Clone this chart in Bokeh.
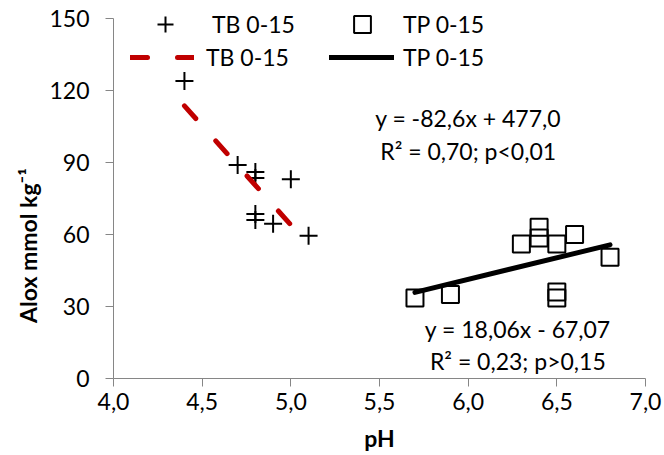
from bokeh.plotting import figure
from bokeh.models import (Range1d, FixedTicker, Label, Legend, LegendItem)
from bokeh.embed import file_html
from bokeh.resources import INLINE
import math

# ---- data ----
tb_ph = [4.4, 4.7, 4.8, 4.8, 4.8, 4.8, 4.9, 5.0, 5.1]
tb_alox = [124, 89, 86, 83.5, 68.5, 66, 64.5, 83, 59.5]

tp_ph = [5.7, 5.9, 6.3, 6.4, 6.4, 6.5, 6.5, 6.5, 6.6, 6.8]
tp_alox = [33.5, 35, 56, 63, 58.5, 56, 36, 33.5, 60, 50.5]

tb_fit_x = [4.4, 5.1]
tb_fit_y = [113.6, 55.7]
tp_fit_x = [5.7, 6.8]
tp_fit_y = [35.9, 55.7]

x_ticks = [4.0, 4.5, 5.0, 5.5, 6.0, 6.5, 7.0]
x_tick_labels = ["4,0", "4,5", "5,0", "5,5", "6,0", "6,5", "7,0"]
y_ticks = [0, 30, 60, 90, 120, 150]

series_name_tb = "TB 0-15"
series_name_tp = "TP 0-15"
eq_tb = ["y = -82,6x + 477,0", "R² = 0,70; p<0,01"]
eq_tp = ["y = 18,06x - 67,07", "R² = 0,23; p>0,15"]
x_title = "pH"
y_title = "Alox mmol kg⁻¹"

FONT = "Lato"
FS = "23px"
RED = "#C00000"
AXIS_GRAY = "#868686"

W, H = 664, 455
X0_PX, X1_PX = 113, 645      # pixel positions of pH 4 and 7
Y0_PX, Y1_PX = 378, 18       # pixel positions of 0 and 150
xs = (7.0 - 4.0) / (X1_PX - X0_PX)
ys = (150.0 - 0.0) / (Y0_PX - Y1_PX)

p = figure(width=W, height=H, output_backend="svg", toolbar_location=None,
           x_range=Range1d(4.0 - X0_PX * xs, 7.0 + (W - X1_PX) * xs),
           y_range=Range1d(0.0 - (H - Y0_PX) * ys, 150.0 + Y1_PX * ys),
           min_border=0)
p.outline_line_color = None
p.grid.visible = False
p.background_fill_color = "white"
p.border_fill_color = "white"

p.xaxis.fixed_location = 0
p.yaxis.fixed_location = 4.0
p.xaxis.bounds = (4.0, 7.0)
p.yaxis.bounds = (0, 150)

for ax in (p.xaxis[0], p.yaxis[0]):
    ax.axis_line_color = AXIS_GRAY
    ax.major_tick_line_color = AXIS_GRAY
    ax.minor_tick_line_color = None
    ax.major_tick_in = 0
    ax.major_tick_out = 8
    ax.major_label_text_font = FONT
    ax.major_label_text_font_size = FS
    ax.major_label_text_color = "black"

p.xaxis.ticker = FixedTicker(ticks=x_ticks)
p.xaxis.major_label_overrides = {t: s for t, s in zip(x_ticks, x_tick_labels)}
p.xaxis.major_label_standoff = 6
p.yaxis.ticker = FixedTicker(ticks=y_ticks)
p.yaxis.major_label_standoff = 16

r_tb = p.scatter(tb_ph, tb_alox, marker="cross", size=18, line_color="black", line_width=2)
r_tp = p.scatter(tp_ph, tp_alox, marker="square", size=17, line_color="black",
                 line_width=2, fill_alpha=0)
r_tbl = p.line(tb_fit_x, tb_fit_y, line_color=RED, line_width=5, line_dash="17 30",
               line_cap="round")
r_tpl = p.line(tp_fit_x, tp_fit_y, line_color="black", line_width=5, line_cap="round")

def add_leg(renderer, label, x, y, gw, gh, standoff):
    leg = Legend(items=[LegendItem(label=label, renderers=[renderer])],
                 location=(x, y), glyph_width=gw, glyph_height=gh,
                 label_height=gh, label_standoff=standoff, padding=0, margin=0,
                 border_line_alpha=0, background_fill_alpha=0,
                 label_text_font=FONT, label_text_font_size=FS,
                 label_text_color="black")
    p.add_layout(leg)

add_leg(r_tb, series_name_tb, 128, 411, 74, 40, 10)
add_leg(r_tp, series_name_tp, 325, 410, 74, 42, 4)
add_leg(r_tbl, series_name_tb, 130, 384, 64, 20, 12)
add_leg(r_tpl, series_name_tp, 329, 384, 65, 20, 9)

def add_text(txt, x, y, **kw):
    p.add_layout(Label(x=x, y=y, text=txt, text_font=FONT, text_font_size=FS,
                       text_align="center", text_baseline="middle",
                       text_color="black", **kw))

add_text(eq_tb[0], 6.0, 108.5)
add_text(eq_tb[1], 6.0, 95)
add_text(eq_tp[0], 6.28, 20.7)
add_text(eq_tp[1], 6.28, 7.4)

add_text(x_title, 379, H - 437, x_units="screen", y_units="screen", text_font_style="bold")
add_text(y_title, 27, H - 245, x_units="screen", y_units="screen", text_font_style="bold",
         angle=math.pi / 2)

open("out.html", "w").write(file_html(p, INLINE))
